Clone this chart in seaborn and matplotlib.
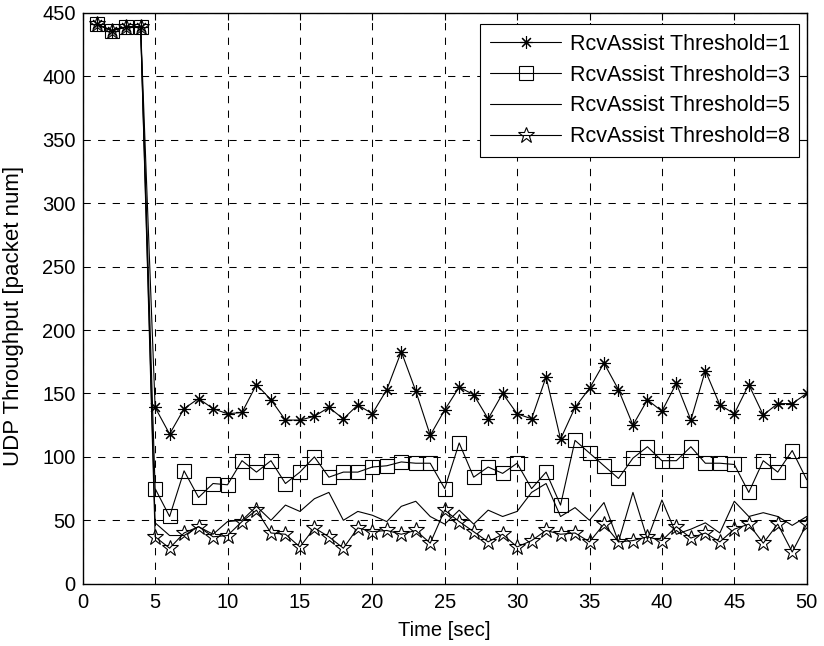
import numpy as np
import pandas as pd
import seaborn as sns
import matplotlib.pyplot as plt

# DATA  (time in sec, throughput in packets)
time = list(range(1, 51))

thr_1 = [441, 436, 439, 439, 139, 118, 138, 146, 138, 134,
         135, 157, 145, 129, 129, 132, 139, 130, 141, 134,
         153, 183, 152, 117, 137, 155, 149, 130, 150, 134,
         130, 163, 114, 139, 154, 174, 153, 125, 145, 136,
         158, 129, 168, 141, 134, 157, 133, 142, 142, 150]

thr_3 = [441, 436, 439, 439, 75, 53, 89, 68, 79, 78,
         97, 88, 97, 79, 88, 100, 84, 88, 88, 92,
         93, 96, 95, 95, 75, 111, 84, 92, 87, 95,
         75, 88, 62, 113, 103, 93, 83, 99, 108, 97,
         97, 108, 95, 95, 94, 72, 97, 88, 105, 82]

thr_5 = [441, 436, 439, 439, 48, 38, 38, 45, 39, 49,
         50, 61, 50, 62, 57, 67, 72, 50, 57, 54,
         49, 61, 65, 53, 47, 58, 47, 58, 53, 57,
         72, 79, 53, 60, 50, 64, 33, 72, 35, 66,
         39, 43, 48, 40, 65, 53, 56, 53, 46, 53]

thr_8 = [441, 436, 439, 439, 37, 28, 40, 45, 37, 38,
         49, 58, 40, 39, 29, 44, 37, 28, 44, 41,
         42, 39, 42, 32, 58, 49, 41, 33, 39, 29,
         34, 42, 39, 40, 33, 47, 33, 34, 37, 34,
         45, 36, 40, 33, 43, 47, 32, 47, 25, 47]

labels = ['RcvAssist Threshold=1', 'RcvAssist Threshold=3',
          'RcvAssist Threshold=5', 'RcvAssist Threshold=8']


sns.set_style('white')
plt.rcParams['font.family'] = ['Liberation Sans', 'DejaVu Sans']
plt.rcParams['text.color'] = 'black'

fig = plt.figure(figsize=(8.24, 6.46), dpi=100)
ax = fig.add_axes([0.1004, 0.0964, 0.8786, 0.8836])

# marker styles, all black
styles = [
    dict(marker=(8, 2, 0), markersize=9, markeredgewidth=0.8),
    dict(marker='s', markersize=9.5, markerfacecolor='none', markeredgewidth=0.8),
    dict(marker=None),
    dict(marker='*', markersize=12, markerfacecolor='none', markeredgewidth=0.8),
]
for vals, lab, st in zip([thr_1, thr_3, thr_5, thr_8], labels, styles):
    df = pd.DataFrame({'Time': time, 'Thr': vals})
    sns.lineplot(data=df, x='Time', y='Thr', ax=ax, color='black',
                 linewidth=0.8, label=lab, markeredgecolor='black', **st)

ax.set_xlim(0, 50)
ax.set_ylim(0, 450)
ax.set_xticks(np.arange(0, 51, 5))
ax.set_yticks(np.arange(0, 451, 50))
ax.grid(True, color='black', linestyle=(0, (7, 7)), linewidth=0.75)
ax.set_axisbelow(True)
ax.tick_params(direction='in', length=5, width=0.8, labelsize=14.5,
               top=True, right=True, colors='black')
ax.tick_params(axis='x', pad=7)
ax.tick_params(axis='y', pad=5)
for s in ax.spines.values():
    s.set_color('black')
    s.set_linewidth(1.0)

ax.set_xlabel('Time [sec]', fontsize=14.5, labelpad=6, color='black')
ax.set_ylabel('UDP Throughput [packet num]', fontsize=16, color='black')
ax.yaxis.set_label_coords(-0.081, 0.47)

leg = ax.legend(loc='upper right', bbox_to_anchor=(0.9898, 0.980),
                borderaxespad=0, fontsize=15.5, fancybox=False, frameon=True,
                edgecolor='black', framealpha=1, handlelength=3.3,
                handletextpad=0.4, labelspacing=0.45, borderpad=0.45)
leg.get_frame().set_linewidth(0.8)

fig.savefig('out.png', dpi=100)
